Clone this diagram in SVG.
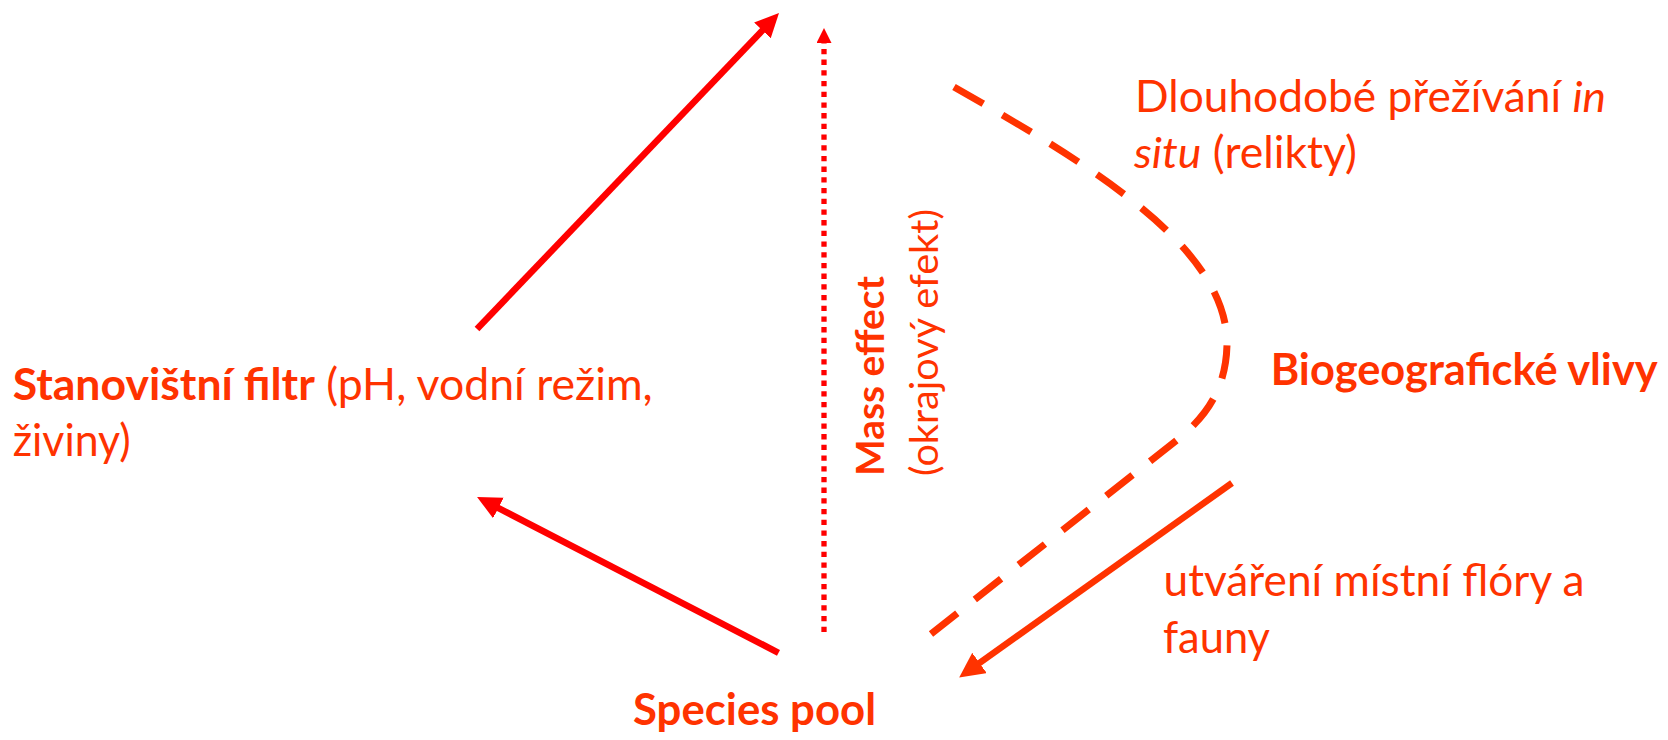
<svg xmlns="http://www.w3.org/2000/svg" width="1668" height="740" viewBox="0 0 1668 740">
  <style>
    .lbl { font-family: Lato, "Liberation Sans", sans-serif; font-size: 43.5px; fill: #FF3300; }
    .lbl-v { font-family: Lato, "Liberation Sans", sans-serif; font-size: 39px; fill: #FF3300; }
    .b { font-weight: bold; }
    .i { font-style: italic; }
    .solid-red { fill: none; stroke: #FF0000; stroke-width: 6.5; }
    .solid-orange { fill: none; stroke: #FF3300; stroke-width: 6.5; }
    .dotted { fill: none; stroke: #FF0000; stroke-width: 5.3; stroke-dasharray: 5.3 5.4; }
    .dashed { fill: none; stroke: #FF3300; stroke-width: 7; stroke-dasharray: 33 22; }
  </style>
  <defs>
    <marker id="head-red" markerUnits="userSpaceOnUse" markerWidth="26" markerHeight="24" refX="2" refY="11.5" orient="auto">
      <path d="M0,0 L24,11.5 L0,23 Z" fill="#FF0000"/>
    </marker>
    <marker id="head-orange" markerUnits="userSpaceOnUse" markerWidth="26" markerHeight="26" refX="2" refY="12.5" orient="auto">
      <path d="M0,0 L25,12.5 L0,25 Z" fill="#FF3300"/>
    </marker>
    <marker id="head-dot" markerUnits="userSpaceOnUse" markerWidth="16" markerHeight="16" refX="2" refY="7.5" orient="auto">
      <path d="M0,0 L15,7.5 L0,15 Z" fill="#FF0000"/>
    </marker>
  </defs>

  <rect width="1668" height="740" fill="#FFFFFF"/>

  <!-- connectors -->
  <g id="connectors">
    <!-- habitat filter to the top -->
    <path id="edge-filter-up" class="solid-red" d="M477,329 L763.8,28.9" marker-end="url(#head-red)"/>
    <!-- species pool to habitat filter -->
    <path id="edge-pool-filter" class="solid-red" d="M778.5,652.8 L496.6,507.1" marker-end="url(#head-red)"/>
    <!-- mass effect, pool upward -->
    <path id="edge-mass-effect" class="dotted" d="M824,632 L824,41" marker-end="url(#head-dot)"/>
    <!-- long-term persistence in situ: 15 dashes, ending on a dash -->
    <path id="edge-relicts" class="dashed" pathLength="803" d="M954,87 C1100,170 1228,250 1227,345 C1226,385 1210,412 1182,436 L931,634"/>
    <!-- biogeographic influences to species pool -->
    <path id="edge-biogeo-pool" class="solid-orange" d="M1232,483 L977.9,664.2" marker-end="url(#head-orange)"/>
  </g>

  <g id="node-habitat-filter">
    <text class="lbl" x="12.7" y="400" textLength="640" lengthAdjust="spacingAndGlyphs"><tspan class="b">Stanovištní filtr</tspan> (pH, vodní režim,</text>
    <text class="lbl" x="12.7" y="456" textLength="118" lengthAdjust="spacingAndGlyphs">živiny)</text>
  </g>

  <g id="node-relicts">
    <text class="lbl" x="1135" y="112" textLength="471" lengthAdjust="spacingAndGlyphs">Dlouhodobé přežívání <tspan class="i">in</tspan></text>
    <text class="lbl" x="1134" y="168" textLength="223" lengthAdjust="spacingAndGlyphs"><tspan class="i">situ</tspan> (relikty)</text>
  </g>

  <g id="node-biogeo">
    <text class="lbl b" x="1270.7" y="385" textLength="387" lengthAdjust="spacingAndGlyphs">Biogeografické vlivy</text>
  </g>

  <g id="node-local-flora">
    <text class="lbl" x="1163.5" y="596" textLength="421" lengthAdjust="spacingAndGlyphs">utváření místní flóry a</text>
    <text class="lbl" x="1163" y="653" textLength="107" lengthAdjust="spacingAndGlyphs">fauny</text>
  </g>

  <g id="node-species-pool">
    <text class="lbl b" x="633" y="725" textLength="243" lengthAdjust="spacingAndGlyphs">Species pool</text>
  </g>

  <g id="node-mass-effect" transform="translate(884,476) rotate(-90)">
    <text class="lbl-v b" x="0" y="0" textLength="200" lengthAdjust="spacingAndGlyphs">Mass effect</text>
    <text class="lbl-v" x="0" y="54" textLength="267" lengthAdjust="spacingAndGlyphs">(okrajový efekt)</text>
  </g>
</svg>
